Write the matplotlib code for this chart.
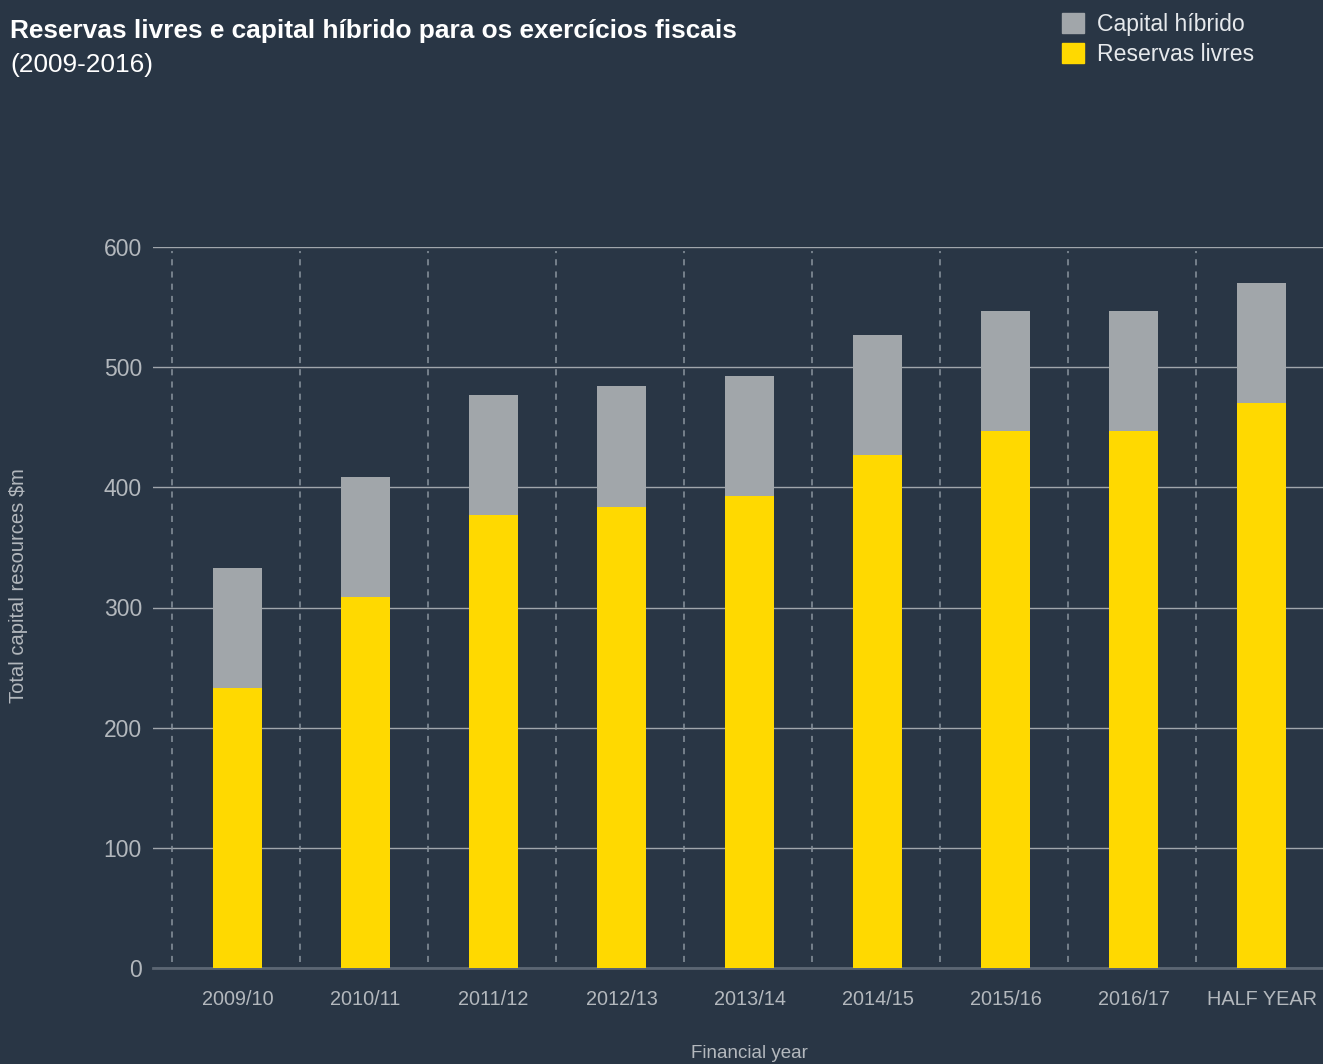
import matplotlib.pyplot as plt
from matplotlib.patches import Patch

years = ['2009/10', '2010/11', '2011/12', '2012/13', '2013/14',
         '2014/15', '2015/16', '2016/17', 'HALF YEAR']
reservas = [233, 309, 377, 384, 393, 427, 447, 447, 470]
hibrido = [100, 100, 100, 100, 100, 100, 100, 100, 100]

bg = '#293645'
yellow = '#ffd900'
grey = '#a1a6aa'
txt = '#b3b8bd'

plt.rcParams['font.family'] = ['Liberation Sans', 'DejaVu Sans']

W, H = 1323, 1064
fig = plt.figure(figsize=(W / 100, H / 100), dpi=100, facecolor=bg)
ax = fig.add_axes([153 / W, 1 - 968 / H, 1 - 153 / W, (968 - 247) / H])
ax.set_facecolor(bg)

x = list(range(len(years)))
ax.bar(x, reservas, width=0.38, color=yellow, zorder=3)
ax.bar(x, hibrido, width=0.38, bottom=reservas, color=grey, zorder=3)

# dashed separators between categories
ax.vlines([i - 0.51 for i in x], 5, 597, colors='#8a949e', linestyles=(0, (4, 4)),
          linewidth=1.1, zorder=1)

ax.set_ylim(0, 600)
ax.set_xlim(-0.66, 8.48)
ax.set_yticks([0, 100, 200, 300, 400, 500, 600])
ax.yaxis.grid(True, color='#a0a6ac', linewidth=1.0, zorder=0)
ax.set_axisbelow(True)
ax.set_xticks(x)
ax.set_xticklabels(years)
ax.tick_params(axis='x', length=0, pad=16, labelsize=14.3, colors=txt)
ax.tick_params(axis='y', length=0, pad=8, labelsize=16.5, colors=txt)
for s in ['top', 'right', 'left']:
    ax.spines[s].set_visible(False)
ax.spines['bottom'].set_color('#5b6673')
ax.spines['bottom'].set_linewidth(2)

ax.set_ylabel('Total capital resources $m', fontsize=14.5, color=txt)
ax.yaxis.set_label_coords((28 - 153) / (W - 153), 0.53)
ax.set_xlabel('Financial year', fontsize=13.5, color=txt)
ax.xaxis.set_label_coords(0.51, (968 - 1062) / (968 - 247))
ax.xaxis.label.set_va('bottom')

fig.text(10 / W, 1 - 38 / H, 'Reservas livres e capital híbrido para os exercícios fiscais',
         fontsize=18.9, fontweight='bold', color='white')
fig.text(10 / W, 1 - 72 / H, '(2009-2016)', fontsize=18.9, color='white')

handles = [Patch(color=grey, label='Capital híbrido'),
           Patch(color=yellow, label='Reservas livres')]
leg = fig.legend(handles=handles, loc='upper left', bbox_to_anchor=(1041 / W, 1 + 8 / H),
                 frameon=False, fontsize=16.6, handlelength=0.95, handleheight=0.95,
                 handletextpad=0.6, labelspacing=0.3)
for t in leg.get_texts():
    t.set_color('#e6e9ec')

fig.savefig('out.png', dpi=100, facecolor=bg)
